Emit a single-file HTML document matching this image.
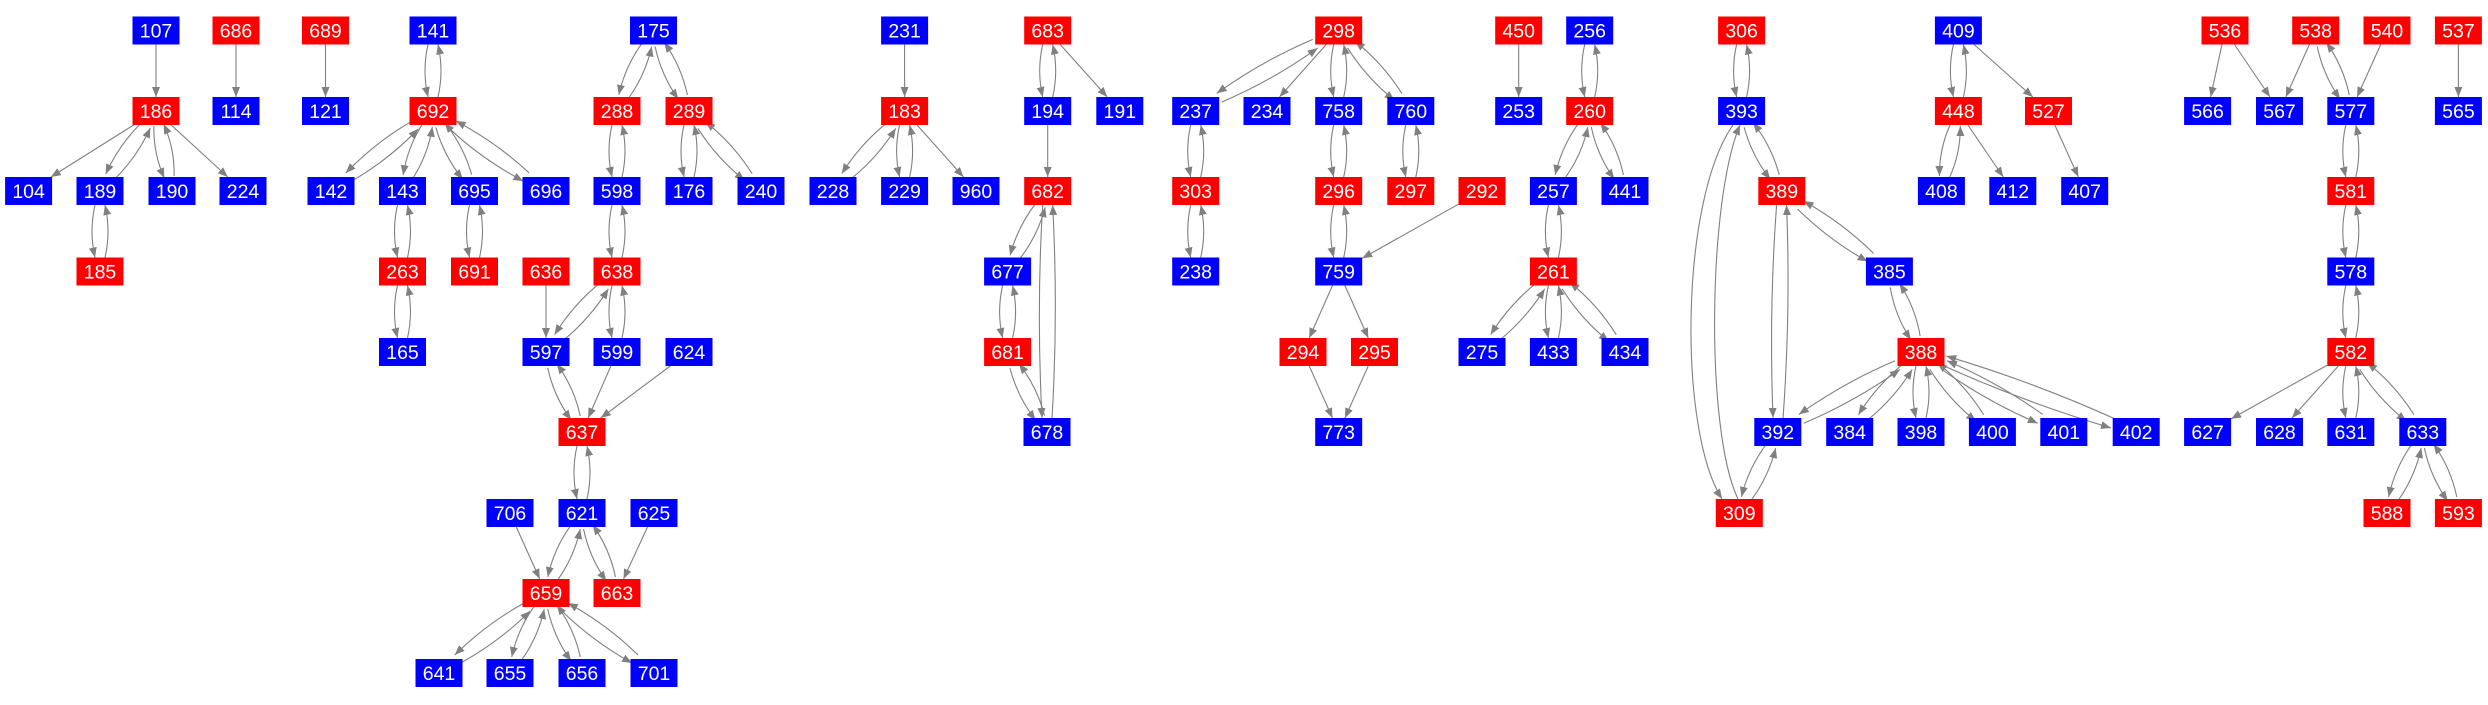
<!DOCTYPE html>
<html><head><meta charset="utf-8"><style>
html,body{margin:0;padding:0;background:#fff;}
svg{display:block;}
text{font-family:"Liberation Sans",Arial,sans-serif;font-size:19.5px;fill:#fff;}
</style></head><body>
<svg id="s" width="2488" height="705" viewBox="0 0 2488 705" xmlns="http://www.w3.org/2000/svg">
<defs><marker id="a" markerUnits="userSpaceOnUse" markerWidth="12" markerHeight="10" refX="10" refY="4" orient="auto"><path d="M0,0 L10,4 L0,8 z" fill="#808080"/></marker></defs>
<g id="e"></g><g id="n"></g>
</svg>
<script>
var R=[30.5,111,191,271.5,352,432,513,593,673];
var N={
107:[156,0,'B'],686:[236,0,'R'],689:[325.5,0,'R'],141:[433,0,'B'],175:[653.5,0,'B'],
186:[156,1,'R'],114:[236,1,'B'],121:[325.5,1,'B'],692:[433,1,'R'],288:[617,1,'R'],289:[689,1,'R'],
104:[28.6,2,'B'],189:[100,2,'B'],190:[172,2,'B'],224:[243,2,'B'],142:[331,2,'B'],143:[402.5,2,'B'],695:[474.5,2,'B'],696:[546,2,'B'],598:[617,2,'B'],176:[689,2,'B'],240:[761,2,'B'],
185:[100,3,'R'],263:[402.5,3,'R'],691:[474.5,3,'R'],636:[546,3,'R'],638:[617,3,'R'],
165:[402.5,4,'B'],597:[546,4,'B'],599:[617,4,'B'],624:[689,4,'B'],
637:[582,5,'R'],706:[510,6,'B'],621:[582,6,'B'],625:[654,6,'B'],659:[546,7,'R'],663:[617,7,'R'],
641:[439,8,'B'],655:[510,8,'B'],656:[582,8,'B'],701:[654,8,'B'],
231:[904.6,0,'B'],183:[904.6,1,'R'],228:[833,2,'B'],229:[904.6,2,'B'],960:[976,2,'B'],
683:[1047.7,0,'R'],194:[1047.7,1,'B'],191:[1119.8,1,'B'],682:[1047.7,2,'R'],677:[1007.6,3,'B'],681:[1007.6,4,'R'],678:[1047,5,'B'],
298:[1338.7,0,'R'],237:[1195.7,1,'B'],234:[1267,1,'B'],758:[1338.7,1,'B'],760:[1410.8,1,'B'],
303:[1195.7,2,'R'],296:[1338.7,2,'R'],297:[1410.8,2,'R'],292:[1482,2,'R'],238:[1195.7,3,'B'],759:[1338.7,3,'B'],
294:[1303,4,'R'],295:[1374.5,4,'R'],773:[1338.7,5,'B'],
450:[1518.7,0,'R'],253:[1518.7,1,'B'],256:[1589.7,0,'B'],260:[1589.7,1,'R'],257:[1553.4,2,'B'],441:[1625,2,'B'],
261:[1553.4,3,'R'],275:[1482,4,'B'],433:[1553.4,4,'B'],434:[1625,4,'B'],
306:[1741.6,0,'R'],393:[1741.6,1,'B'],389:[1781.8,2,'R'],385:[1889.4,3,'B'],388:[1921,4,'R'],
392:[1777.8,5,'B'],384:[1849.7,5,'B'],398:[1921,5,'B'],400:[1992.4,5,'B'],401:[2063.8,5,'B'],402:[2136.2,5,'B'],309:[1739.3,6,'R'],
409:[1958.4,0,'B'],448:[1958.4,1,'R'],527:[2048.5,1,'R'],408:[1941.4,2,'B'],412:[2012.8,2,'B'],407:[2084.7,2,'B'],
536:[2225,0,'R'],538:[2315.7,0,'R'],540:[2387,0,'R'],537:[2458.4,0,'R'],
566:[2207.6,1,'B'],567:[2279.5,1,'B'],577:[2350.8,1,'B'],565:[2458.4,1,'B'],581:[2350.8,2,'R'],578:[2350.8,3,'B'],582:[2350.8,4,'R'],
627:[2207.6,5,'B'],628:[2279.5,5,'B'],631:[2350.8,5,'B'],633:[2422.8,5,'B'],588:[2387,6,'R'],593:[2458.4,6,'R']
};
var P=[[186,189],[186,190],[189,185],[141,692],[692,142],[692,143],[692,695],[692,696],[143,263],[263,165],[695,691],
[175,288],[175,289],[288,598],[289,176],[289,240],[598,638],[638,597],[638,599],[597,637],[637,621],[621,659],[621,663],
[659,641],[659,655],[659,656],[659,701],[183,228],[183,229],[683,194],[682,677],[677,681],[681,678],[682,678],
[298,237],[298,758],[298,760],[237,303],[303,238],[758,296],[760,297],[296,759],[256,260],[260,257],[260,441],[257,261],
[261,275],[261,433],[261,434],[306,393],[393,389],[389,385],[385,388],[388,392],[388,384],[388,398],[388,400],[388,401],[388,402],
[392,309],[389,392],[409,448],[448,408],[538,577],[577,581],[581,578],[578,582],[582,631],[582,633],[633,588],[633,593]];
var S=[[107,186],[686,114],[689,121],[186,104],[186,224],[636,597],[599,637],[624,637],[706,659],[625,663],[231,183],[183,960],
[683,191],[194,682],[298,234],[292,759],[759,294],[759,295],[294,773],[295,773],[450,253],[409,527],[448,412],[527,407],
[536,566],[536,567],[538,567],[540,577],[537,565],[582,627],[582,628]];
var W=23.5,H=14;
function clip(c,dx,dy){var tx=dx?W/Math.abs(dx):1e9,ty=dy?H/Math.abs(dy):1e9,t=Math.min(tx,ty);return [c[0]+dx*t,c[1]+dy*t];}
var eg='';
function edge(a,b,off){var A=[N[a][0],R[N[a][1]]],B=[N[b][0],R[N[b][1]]];
var dx=B[0]-A[0],dy=B[1]-A[1],L=Math.hypot(dx,dy);dx/=L;dy/=L;
var p0=clip(A,dx,dy),p2=clip(B,-dx,-dy);var px=-dy,py=dx;
if(!off){eg+='<path d="M'+p0[0]+','+p0[1]+' L'+p2[0]+','+p2[1]+'" fill="none" stroke="#808080" stroke-width="1.1" marker-end="url(#a)"/>';return;}
var e=5,c=11;var s=[p0[0]+px*e,p0[1]+py*e],t=[p2[0]+px*e,p2[1]+py*e],m=[(p0[0]+p2[0])/2+px*c,(p0[1]+p2[1])/2+py*c];
eg+='<path d="M'+s+' Q'+m+' '+t+'" fill="none" stroke="#808080" stroke-width="1.1" marker-end="url(#a)"/>';}
P.forEach(function(p){edge(p[0],p[1],1);edge(p[1],p[0],1);});
S.forEach(function(p){edge(p[0],p[1],0);});
eg+='<path d="M1733,125 C1680,200 1678,430 1722,499" fill="none" stroke="#808080" stroke-width="1.1" marker-end="url(#a)"/>';
eg+='<path d="M1738,499 C1705,430 1708,200 1740,125" fill="none" stroke="#808080" stroke-width="1.1" marker-end="url(#a)"/>';
document.getElementById('e').innerHTML=eg;
var ng='';for(var k in N){var n=N[k],x=n[0],y=R[n[1]];
ng+='<rect x="'+(x-W)+'" y="'+(y-H)+'" width="47" height="28" fill="'+(n[2]=='R'?'#ff0000':'#0000ff')+'"/><text x="'+x+'" y="'+(y+7)+'" text-anchor="middle">'+k+'</text>';}
document.getElementById('n').innerHTML=ng;
</script>
</body></html>
